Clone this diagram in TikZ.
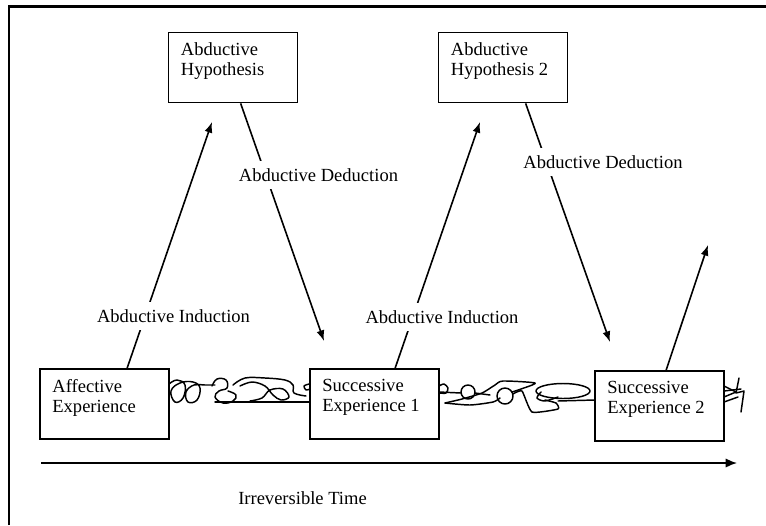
\documentclass[tikz,border=0pt]{standalone}
\usepackage{fontspec}
\setmainfont{Liberation Serif}
\usetikzlibrary{arrows.meta,calc}
\tikzset{
  box/.style={draw,line width=1.3pt,minimum width=96.75pt,minimum height=52.5pt,inner sep=0pt},
  boxtext/.style={anchor=north west,align=left,inner sep=0pt,xshift=9.75pt,yshift=-8.25pt},
  lab/.style={fill=white,inner xsep=2pt,inner ysep=5.5pt},
  arr/.style={line width=1.2pt,-{Latex[length=8pt,width=6pt]}},
  scrib/.style={line width=1.1pt,line join=round,line cap=round},
}
\begin{document}
\begin{tikzpicture}[x=0.75pt,y=-0.75pt,font=\fontsize{13.9}{15}\selectfont]
    \useasboundingbox (0,0) rectangle (766,525);
    \draw[line width=1.6pt] (9,525) -- (9,6.5) -- (766,6.5);
    % boxes
    \node[box,label={[boxtext]north west:Abductive\\Hypothesis}] (hyp1) at (233,67.5) {};
    \node[box,label={[boxtext]north west:Abductive\\Hypothesis 2}] (hyp2) at (503,67.5) {};
    \node[box,label={[boxtext]north west:Affective\\Experience}] (aff) at (104.5,404) {};
    \node[box,label={[boxtext]north west:Successive\\Experience 1}] (suc1) at (374.5,404) {};
    \node[box,label={[boxtext]north west:Successive\\Experience 2}] (suc2) at (659.5,406) {};
    % arrows
    \coordinate (tip1) at (212,122);
    \coordinate (tip2) at (324,341);
    \coordinate (tip3) at (480,122);
    \coordinate (tip4) at (610,342);
    \coordinate (tip5) at (708,245);
    \draw[arr] ($(aff.north west)+(88,0)$) -- (tip1);
    \draw[arr] ($(hyp1.south west)+(73,0)$) -- (tip2);
    \draw[arr] ($(suc1.north west)+(86,0)$) -- (tip3);
    \draw[arr] ($(hyp2.south west)+(88,0)$) -- (tip4);
    \draw[arr] ($(suc2.north west)+(72,0)$) -- (tip5);
    \node[lab] (ind1) at (173.5,316) {Abductive Induction};
    \node[lab] (ded1) at (318.5,175) {Abductive Deduction};
    \node[lab] (ind2) at (442,317) {Abductive Induction};
    \node[lab] (ded2) at (603,162) {Abductive Deduction};
    % scribbles
    \draw[scrib] plot[smooth,tension=0.7] coordinates {(169,384) (177,380) (185,385) (183,398) (175,402) (171,391) (180,383) (193,382) (200,388) (197,400) (188,402) (186,392) (194,385) (205,385) (215,385)};
    \draw[scrib] plot[smooth,tension=0.7] coordinates {(212,386) (217,379) (226,380) (227,388) (219,391) (215,397) (223,403) (233,401) (236,395) (228,391)};
    \draw[scrib] (215,402) -- (310,402);
    \draw[scrib] plot[smooth,tension=0.6] coordinates {(233,385) (245,378) (265,378) (285,380) (293,385) (294,393) (306,396)};
    \draw[scrib] plot[smooth,tension=0.6] coordinates {(240,386) (252,382) (265,386) (273,395) (281,400) (289,397) (283,389) (270,390) (262,398) (250,401)};
    \draw[scrib] plot[smooth] coordinates {(309,384) (304,386) (306,390) (310,389)};
    \draw[scrib] plot[smooth] coordinates {(439,386) (444,384) (448,388) (446,393) (440,393)};
    \draw[scrib] (439,392) -- (461,393);
    \draw[scrib] (468,392) circle[radius=7];
    \draw[scrib] (475,393) -- (490,395);
    \draw[scrib] plot[smooth,tension=0.4] coordinates {(445,403) (462,399) (482,393) (495,385) (503,381) (535,383) (521,389) (512,392)};
    \draw[scrib] plot[smooth,tension=0.4] coordinates {(445,403) (470,405) (493,402) (500,398)};
    \draw[scrib] (505,396) circle[radius=8];
    \draw[scrib] plot[smooth,tension=0.3] coordinates {(513,394) (522,391) (532,412) (558,409) (556,403) (545,400)};
    \draw[scrib] (563,391) ellipse[x radius=27,y radius=7.5];
    \draw[scrib] plot[smooth] coordinates {(541,392) (537,398) (545,401) (558,397)};
    \draw[scrib] (558,401) -- (595,400);
    \draw[scrib] (724,386) -- (736,392) -- (724,397);
    \draw[scrib] (724,391) -- (741,389);
    \draw[scrib] (724,402) -- (738,397);
    \draw[scrib] (739,378) -- (736,393) -- (744,391) -- (741,412);
    % time
    \coordinate (t0) at (41,463);
    \coordinate (t1) at (737,463);
    \draw[line width=1.2pt,-{Latex[length=8.5pt,width=7pt]}] (t0) -- (t1);
    \node[anchor=base] (time) at (302.5,504) {Irreversible Time};
\end{tikzpicture}
\end{document}
